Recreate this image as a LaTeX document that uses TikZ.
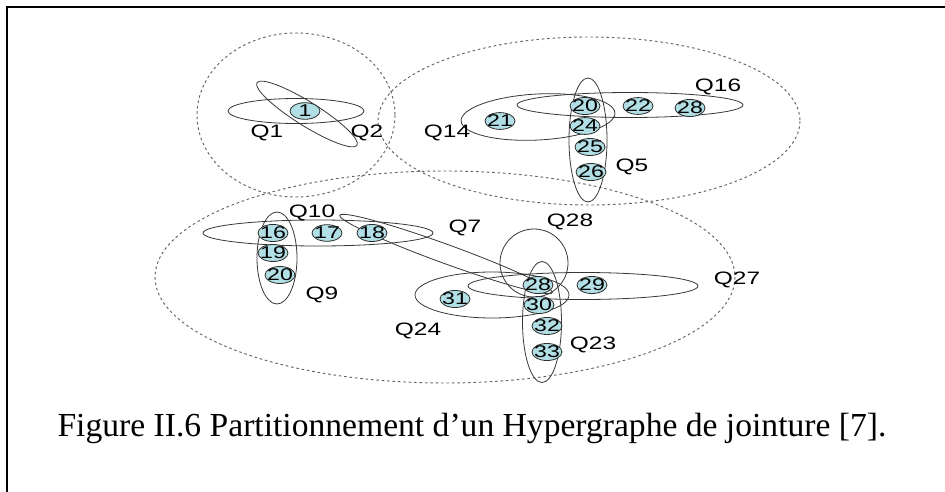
\documentclass[tikz,border=0pt]{standalone}
\usepackage{fontspec}
\setmainfont{Liberation Serif}
\newfontfamily\labelfont{Liberation Sans}
\usetikzlibrary{shapes.geometric}

\definecolor{vertexfill}{RGB}{178,223,229}
\definecolor{vertexline}{RGB}{45,45,45}
\definecolor{edgeline}{RGB}{55,55,55}
\definecolor{partline}{RGB}{100,100,100}

% wide sans text used for vertex numbers and hyperedge names
\newcommand{\widetext}[1]{\scalebox{1.36}[1]{#1}}

\tikzset{
  vertex/.style={ellipse, draw=vertexline, line width=0.8pt, fill=vertexfill,
    minimum width=30pt, minimum height=16.5pt, inner sep=0pt,
    font=\labelfont\fontsize{17}{17}\selectfont},
  hyperedge/.style={draw=edgeline, line width=0.8pt},
  partition/.style={draw=partline, line width=0.95pt, dash pattern=on 2.6pt off 2.8pt},
  qlabel/.style={inner sep=0pt, font=\labelfont\fontsize{18}{18}\selectfont},
}
\newcommand{\vtx}[3]{\node[vertex] (#1) at (#2) {\makebox[0pt]{\widetext{#3}}};}
\newcommand{\qlab}[3]{\node[qlabel] (#1) at (#2) {\widetext{#3}};}

\begin{document}
\begin{tikzpicture}[x=1pt, y=-1pt]
\useasboundingbox (0,0) rectangle (945,492);

% frame
\draw[line width=2pt] (7,492) -- (7,7) -- (945,7);

% partitions
\draw[partition] (296,115) ellipse (99 and 82);
\draw[partition] (589,121) ellipse (211 and 84);
\draw[partition] (445,277) ellipse (290 and 106);

% hyperedges of the first part
\draw[hyperedge] (296,111) ellipse (68 and 12.5);
\draw[hyperedge, rotate around={-32:(307,114)}] (307,114) ellipse (59 and 12);

% hyperedges of the second part
\draw[hyperedge] (630,105) ellipse (113 and 12.5);
\draw[hyperedge, rotate around={3:(538,117)}] (538,117) ellipse (77 and 23);
\draw[hyperedge] (588,140) ellipse (19 and 62);

% hyperedges of the third part
\draw[hyperedge] (318,233) ellipse (115 and 13);
\draw[hyperedge] (277,258) ellipse (20 and 46);
\draw[hyperedge, rotate around={-20:(446,254)}] (446,254) ellipse (113 and 9.5);
\draw[hyperedge] (534,263) ellipse (34 and 34);
\draw[hyperedge] (542,322) ellipse (19.5 and 60.5);
\draw[hyperedge] (583,286) ellipse (115 and 13.5);
\draw[hyperedge] (492,295) ellipse (77 and 23);

% vertices
\vtx{v1}{305,111}{1}
\vtx{v20a}{585,106}{20}
\vtx{v22}{638,106}{22}
\vtx{v28a}{690,108}{28}
\vtx{v21}{500,121}{21}
\vtx{v24}{585,126}{24}
\vtx{v25}{590,147}{25}
\vtx{v26}{591,172}{26}
\vtx{v16}{273,233}{16}
\vtx{v17}{327,233}{17}
\vtx{v18}{372,233}{18}
\vtx{v19}{273,253}{19}
\vtx{v20b}{280,275}{20}
\vtx{v28b}{538,285}{28}
\vtx{v29}{592,285}{29}
\vtx{v31}{455,299}{31}
\vtx{v30}{539,305}{30}
\vtx{v32}{547,326}{32}
\vtx{v33}{547,352}{33}

% hyperedge names
\qlab{q1}{267,133}{Q1}
\qlab{q2}{367,133}{Q2}
\qlab{q16}{718,87}{Q16}
\qlab{q14}{447,133}{Q14}
\qlab{q5}{632,167}{Q5}
\qlab{q10}{312,213}{Q10}
\qlab{q9}{322,295}{Q9}
\qlab{q7}{465,228}{Q7}
\qlab{q28}{570,222}{Q28}
\qlab{q27}{737,280}{Q27}
\qlab{q24}{418,331}{Q24}
\qlab{q23}{593,345}{Q23}

% caption
\node[anchor=base, inner sep=0pt, font=\fontsize{33.6}{36}\selectfont] (caption) at (472,436)
  {Figure II.6 Partitionnement d’un Hypergraphe de jointure [7].};
\end{tikzpicture}
\end{document}
